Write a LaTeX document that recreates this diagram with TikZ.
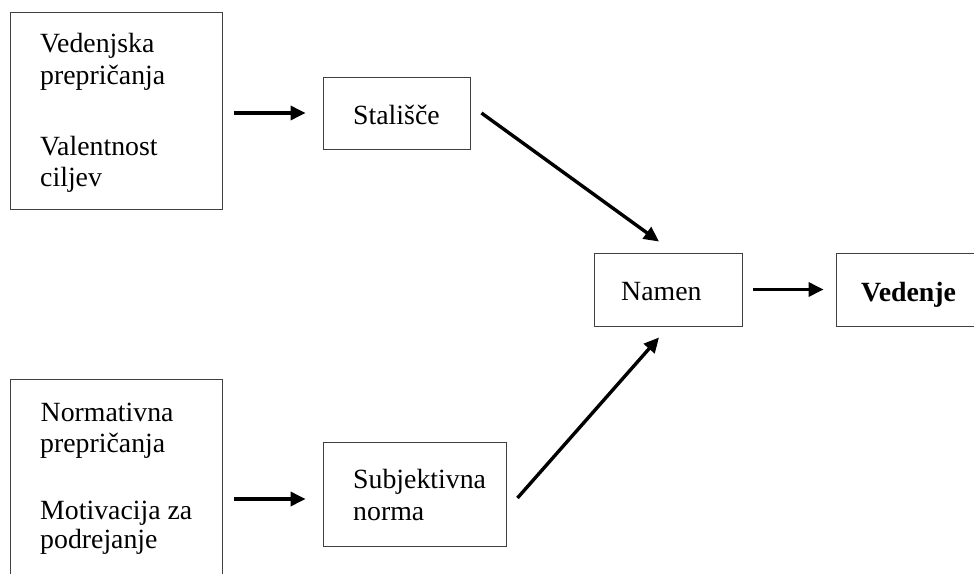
\documentclass[tikz,border=0pt]{standalone}
\usepackage{fontspec}
\setmainfont{Liberation Serif}
\usetikzlibrary{arrows.meta,calc}
\begin{document}
\begin{tikzpicture}[x=1pt,y=-1pt,
  box/.style={draw=black!75,line width=0.9pt,rectangle,inner sep=0pt},
  txt/.style={anchor=base west,inner sep=0pt,font=\fontsize{27.8}{31}\selectfont},
  arr/.style={line width=3.4pt,-{Triangle[length=15pt,width=14pt]}}]
\useasboundingbox (0,0) rectangle (974,573);
\clip (0,0) rectangle (974,573);
\fill[white] (0,0) rectangle (974,573);
% boxes
\node[box,minimum width=212pt,minimum height=197pt] (b1) at (116,110.5) {};
\node[box,minimum width=212pt,minimum height=221pt] (b2) at (116,489.5) {};
\node[box,minimum width=147pt,minimum height=72pt] (st) at (396.5,113) {};
\node[box,minimum width=183pt,minimum height=104pt] (sn) at (414.5,494) {};
\node[box,minimum width=148pt,minimum height=73pt] (nm) at (668,289.5) {};
\node[box,minimum width=240pt,minimum height=73pt] (vd) at (956,289.5) {};
% texts
\node[txt] (t1) at (40,52) {Vedenjska};
\node[txt] (t2) at (40,84) {prepričanja};
\node[txt] (t3) at (40,155) {Valentnost};
\node[txt] (t4) at (40,186) {ciljev};
\node[txt] (t5) at (40.5,421) {Normativna};
\node[txt] (t6) at (40,452) {prepričanja};
\node[txt] (t7) at (40,519) {Motivacija za};
\node[txt] (t8) at (40,548) {podrejanje};
\node[txt] (t9) at (353,124) {Stališče};
\node[txt] (t10) at (353,488) {Subjektivna};
\node[txt] (t11) at (353,520) {norma};
\node[txt] (t12) at (621,300) {Namen};
\node[txt,font=\fontsize{27.8}{31}\selectfont\bfseries] (t13) at (861,301) {Vedenje};
% arrows
\draw[arr,shorten <=12pt,shorten >=17pt] (b1.east |- st.west) -- (st.west);
\draw[arr,shorten <=12pt,shorten >=17pt] ($(b2.east |- sn.west)+(0,5)$) -- ($(sn.west)+(0,5)$);
\draw[arr] ($(st.east)+(11,0)$) -- ($(nm.north)+(-9,-11)$);
\draw[arr] ($(sn.east)+(11,4)$) -- ($(nm.south)+(-9,11)$);
\draw[arr,shorten <=11pt,shorten >=12pt] (nm.east) -- (vd.west);
\end{tikzpicture}
\end{document}
